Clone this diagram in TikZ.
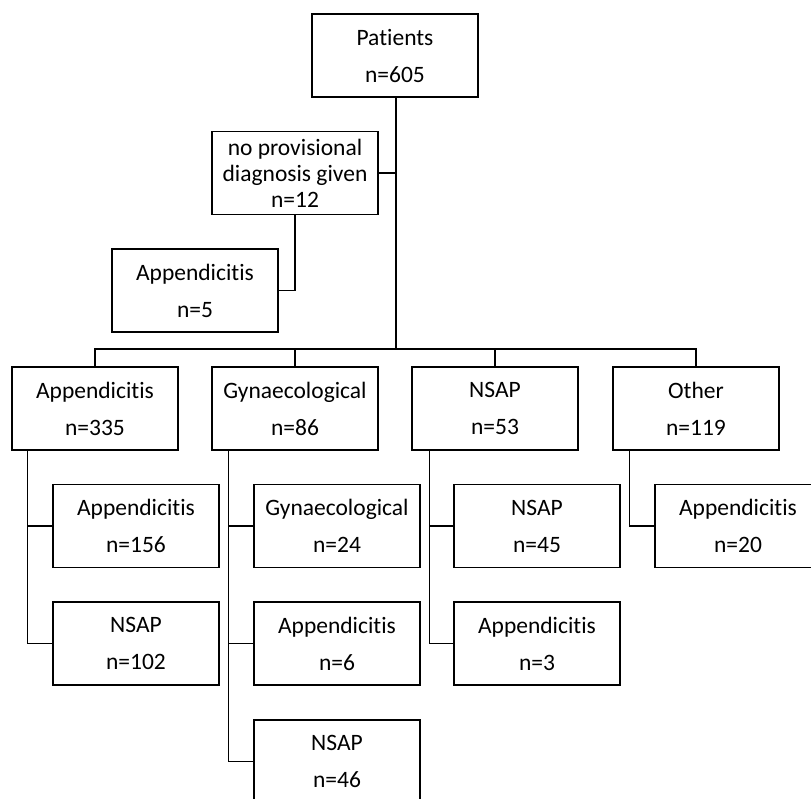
\documentclass[tikz,border=0pt]{standalone}
\usepackage{fontspec}
\setmainfont[Ligatures=NoCommon]{Carlito}

\begin{document}
\begin{tikzpicture}[x=1pt,y=-1pt]
%\draw[help lines] (0,0) grid (811,798);
\tikzstyle{v}=[rectangle,draw,line width=1.1pt,inner sep=0pt,align=center,minimum width=166pt,minimum height=83pt,font=\fontsize{23.5}{37}\selectfont]
\tikzstyle{l}=[line width=1.1pt]
\useasboundingbox (0,0) rectangle (811,798);

\node[v] (pat) at (395,55.5) {Patients\\n=605};
\node[v,font=\fontsize{23.5}{26}\selectfont] (nopd) at (295,173) {no provisional\\diagnosis given\\n=12};
\node[v] (app5) at (195,290.5) {Appendicitis\\n=5};

\node[v] (app) at (95,408.5) {Appendicitis\\n=335};
\node[v] (gyn) at (295,408.5) {Gynaecological\\n=86};
\node[v] (nsap) at (495,408.5) {NSAP\\n=53};
\node[v] (oth) at (696,408.5) {Other\\n=119};

\node[v] (app156) at (136,526) {Appendicitis\\n=156};
\node[v] (nsap102) at (136,643.5) {NSAP\\n=102};
\node[v] (gyn24) at (337,526) {Gynaecological\\n=24};
\node[v] (app6) at (337,643.5) {Appendicitis\\n=6};
\node[v] (nsap46) at (337,761.5) {NSAP\\n=46};
\node[v] (nsap45) at (537,526) {NSAP\\n=45};
\node[v] (app3) at (537,643.5) {Appendicitis\\n=3};
\node[v] (app20) at (738,526) {Appendicitis\\n=20};

\coordinate (bus) at (396,349);

\draw[l] (pat.south -| bus) -- (bus);
\draw[l] (nopd.east) -- (nopd.east -| bus);
\draw[l] (nopd.south) |- (app5.east);
\draw[l] (app.north) |- (bus) -| (oth.north);
\draw[l] (gyn.north) -- (gyn.north |- bus);
\draw[l] (nsap.north) -- (nsap.north |- bus);

\draw[l] ([xshift=16pt]app.south west) |- (app156.west);
\draw[l] ([xshift=16pt]app.south west) |- (nsap102.west);
\draw[l] ([xshift=17pt]gyn.south west) |- (gyn24.west);
\draw[l] ([xshift=17pt]gyn.south west) |- (app6.west);
\draw[l] ([xshift=17pt]gyn.south west) |- (nsap46.west);
\draw[l] ([xshift=18pt]nsap.south west) |- (nsap45.west);
\draw[l] ([xshift=18pt]nsap.south west) |- (app3.west);
\draw[l] ([xshift=17pt]oth.south west) |- (app20.west);
\end{tikzpicture}
\end{document}
